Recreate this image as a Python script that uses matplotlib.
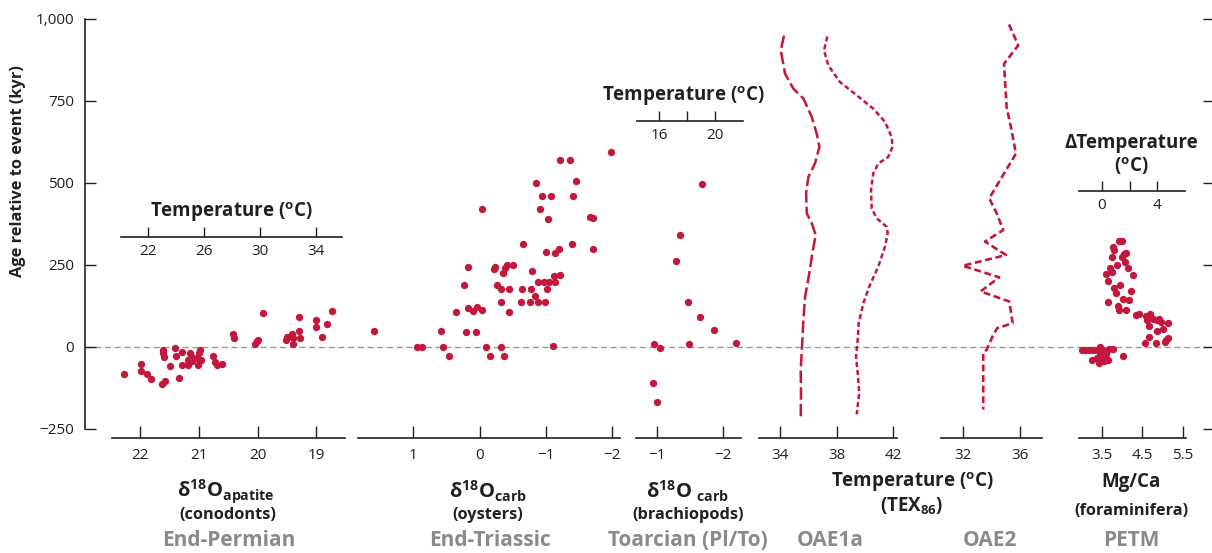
import matplotlib
matplotlib.use('Agg')
import matplotlib.pyplot as plt

W, H = 1212, 553
plt.rcParams['font.family'] = ['Open Sans', 'DejaVu Sans']
plt.rcParams['mathtext.fontset'] = 'custom'
plt.rcParams['mathtext.rm'] = 'Open Sans'
plt.rcParams['mathtext.bf'] = 'Open Sans:bold'
plt.rcParams['mathtext.it'] = 'Open Sans:italic'
plt.rcParams['lines.scale_dashes'] = False

RED = '#C4173D'
GRAY_T = '#8A8A8A'
INK = '#231F20'

# ---------------- data ----------------
age_ticks = [-250, 0, 250, 500, 750, 1000]
age_labels = ['\u2212250', '0', '250', '500', '750', '1,000']

perm_d18O = [22.28, 21.99, 21.98, 21.88, 21.81, 21.63, 21.57, 21.61, 21.61, 21.59,
             21.49, 21.40, 21.39, 21.33, 21.29, 21.28, 21.19, 21.18, 21.15, 21.13,
             21.12, 21.03, 21.02, 20.99, 20.98, 20.97, 20.76, 20.72, 20.69, 20.60,
             20.41, 20.40, 19.91, 20.04, 20.01, 19.99, 19.50, 19.51, 19.41, 19.40,
             19.40, 19.30, 19.29, 19.28, 19.00, 19.00, 18.90, 18.81, 18.73]
perm_age = [-83, -54, -75, -83, -99, -113, -104, -12, -20, -32,
            -58, -4, -30, -95, -18, -56, -56, -40, -20, -30,
            -44, -34, -56, -20, -10, -40, -30, -46, -56, -52,
            37, 25, 102, 8, 17, 21, 29, 19, 39, 27,
            8, 47, 89, 25, 81, 59, 29, 68, 107]

tri_d18O = [1.59, 0.95, 0.87, 0.59, 0.55, 0.46, 0.36, 0.23, 0.20, 0.18,
            0.17, 0.10, 0.05, 0.04, -0.04, -0.04, -0.09, -0.16, -0.21, -0.24,
            -0.27, -0.32, -0.32, -0.33, -0.35, -0.37, -0.39, -0.42, -0.45, -0.45,
            -0.51, -0.62, -0.64, -0.66, -0.76, -0.77, -0.79, -0.84, -0.85, -0.88,
            -0.88, -0.92, -0.94, -0.97, -0.99, -1.01, -1.02, -1.04, -1.05, -1.08,
            -1.11, -1.13, -1.14, -1.14, -1.20, -1.21, -1.22, -1.36, -1.40, -1.41,
            -1.46, -1.67, -1.71, -1.72, -1.98]
tri_age = [46, 0, 0, 46, 0, -29, 106, 187, 45, 118,
           243, 108, 45, 121, 418, 112, 0, -29, 235, 243,
           187, 0, 176, 136, 225, -29, 240, 250, 176, 104,
           250, 136, 176, 311, 136, 176, 231, 155, 499, 198,
           136, 418, 460, 198, 136, 287, 176, 389, 198, 460,
           1, 216, 285, 198, 297, 570, 218, 570, 311, 460,
           504, 395, 391, 297, 593]

toa_d18O = [-1.68, -1.35, -1.29, -1.47, -1.65, -1.86, -0.95, -1.04, -1.48, -2.20, -0.93, -0.99]
toa_age = [494, 339, 262, 135, 90, 49, 8, -5, 8, 11, -112, -170]

oae1a_age_a = [948, 903, 832, 786, 756, 700, 649, 609, 558, 517, 467, 406, 376, 340,
               284, 224, 152, 82, 21, -71, -141, -223]
oae1a_temp_a = [34.26, 34.03, 34.33, 34.92, 35.63, 36.22, 36.57, 36.76, 36.45, 35.98,
                35.82, 35.87, 36.22, 36.50, 36.26, 36.05, 35.75, 35.63, 35.56, 35.44,
                35.46, 35.44]
oae1a_age_b = [945, 903, 857, 806, 766, 725, 685, 639, 609, 578, 558, 528, 477, 421,
               391, 365, 345, 304, 244, 183, 132, 71, 21, -30, -81, -141, -207]
oae1a_temp_b = [37.32, 37.09, 37.39, 38.22, 39.40, 40.57, 41.40, 41.87, 41.94, 41.63,
                40.93, 40.57, 40.41, 40.46, 40.81, 41.52, 41.59, 41.40, 40.93, 40.29,
                39.87, 39.54, 39.47, 39.35, 39.47, 39.58, 39.40]

oae2_age = [982, 918, 862, 730, 659, 588, 558, 507, 452, 406, 355, 320, 279, 246,
            211, 168, 137, 71, 56, 36, -10, -20, -192]
oae2_temp = [35.21, 35.85, 34.86, 35.04, 35.39, 35.69, 35.28, 34.58, 33.83, 34.35,
             34.81, 33.53, 35.00, 31.98, 34.53, 33.23, 35.23, 35.46, 34.39, 34.11,
             33.65, 33.41, 33.41]

petm_mgca = [3.92, 3.99, 3.77, 3.79, 3.75, 4.05, 4.10, 3.99, 4.06, 3.87,
             3.69, 3.73, 3.59, 4.15, 4.26, 3.63, 3.94, 3.80, 4.21, 3.83,
             3.65, 4.02, 4.16, 3.88, 3.92, 4.08, 4.33, 4.41, 4.58, 4.69,
             4.62, 4.77, 4.85, 4.91, 4.67, 4.95, 5.13, 5.02, 4.87, 4.67,
             5.14, 5.08, 4.57, 4.83, 5.07,
             2.99, 3.07, 3.18, 3.28, 3.44, 3.51, 3.67, 3.76, 3.24, 3.36,
             3.44, 3.44, 3.51, 3.65, 3.43, 4.02, 3.47, 3.55, 3.38, 3.60]
petm_age = [323, 323, 304, 294, 272, 282, 284, 274, 259, 247,
            239, 228, 221, 239, 218, 201, 188, 178, 168, 163,
            137, 144, 142, 124, 110, 110, 97, 100, 92, 99,
            82, 84, 82, 84, 63, 76, 73, 54, 46, 29,
            26, 19, 11, 11, 14,
            -10, -10, -10, -10, -3, -10, -8, -8, -40, -35,
            -25, -40, -35, -40, -50, -30, -18, -45, -12, -22]

# ---------------- layout helpers ----------------
fig = plt.figure(figsize=(W / 100, H / 100), dpi=100)


def box(x0, y0, x1, y1):
    return [x0 / W, 1 - y1 / H, (x1 - x0) / W, (y1 - y0) / H]


def ftext(x, y, s, **kw):
    kw.setdefault('ha', 'center')
    kw.setdefault('va', 'center')
    kw.setdefault('color', INK)
    fig.text(x / W, 1 - y / H, s, **kw)


TICKFS = 11

# main age axis
ax0 = fig.add_axes(box(85, 18.5, 1214, 428.5))
ax0.set_ylim(-250, 1000)
ax0.set_xlim(0, 1)
ax0.patch.set_alpha(0)
for s in ['top', 'bottom', 'right']:
    ax0.spines[s].set_visible(False)
ax0.spines['left'].set_linewidth(1.2)
ax0.spines['left'].set_color(INK)
ax0.set_xticks([])
ax0.set_yticks(age_ticks)
ax0.set_yticklabels(age_labels)
ax0.tick_params(axis='y', direction='in', length=8, width=1.0, pad=8,
                labelsize=TICKFS, colors=INK, right=True)
ax0.axhline(0, color='#9A9A9A', lw=1.0, dashes=(4.5, 2.5), zorder=1)

YB = -250 - (438 - 428.5) / (410 / 1250)


def panel(x0, x1, xlim, ticks, labels):
    ax = fig.add_axes(box(x0, 18.5, x1, 438))
    ax.set_xlim(*xlim)
    ax.set_ylim(YB, 1000)
    ax.patch.set_alpha(0)
    for s in ['top', 'left', 'right']:
        ax.spines[s].set_visible(False)
    ax.spines['bottom'].set_linewidth(1.2)
    ax.spines['bottom'].set_color(INK)
    ax.set_yticks([])
    ax.set_xticks(ticks)
    ax.set_xticklabels(labels)
    ax.tick_params(axis='x', direction='in', length=9, width=1.0, pad=7,
                   labelsize=TICKFS, colors=INK)
    return ax


def tempaxis(x0, x1, y, xlim, ticks, labels):
    ax = fig.add_axes(box(x0, y - 1, x1, y))
    ax.set_xlim(*xlim)
    ax.patch.set_alpha(0)
    for s in ['top', 'left', 'right']:
        ax.spines[s].set_visible(False)
    ax.spines['bottom'].set_linewidth(1.2)
    ax.spines['bottom'].set_color(INK)
    ax.set_yticks([])
    ax.set_xticks(ticks)
    ax.set_xticklabels(labels)
    ax.tick_params(axis='x', direction='in', length=7, width=1.0, pad=5,
                   labelsize=TICKFS, colors=INK)
    return ax


M = '\u2212'
p1 = panel(112, 345, (22.48, 18.51), [22, 21, 20, 19], ['22', '21', '20', '19'])
p2 = panel(358, 620, (1.837, -2.121), [1, 0, -1, -2], ['1', '0', M + '1', M + '2'])
p3 = panel(636, 741, (-0.674, -2.274), [-1, -2], [M + '1', M + '2'])
p4 = panel(759, 897, (32.49, 42.25), [34, 38, 42], ['34', '38', '42'])
p5 = panel(941.5, 1042, (30.50, 37.51), [32, 36], ['32', '36'])
p6 = panel(1079, 1185.5, (2.92, 5.57), [3.5, 4.5, 5.5], ['3.5', '4.5', '5.5'])

tempaxis(120.7, 342.3, 236.7, (20.02, 35.91), [22, 26, 30, 34], ['22', '26', '30', '34'])
tempaxis(636.7, 742.7, 120.7, (14.41, 21.98), [16, 18, 20], ['16', '', '20'])
tempaxis(1079.3, 1185, 190.7, (-1.61, 5.99), [0, 2, 4], ['0', '', '4'])

sc = dict(s=28, color=RED, linewidths=0, clip_on=False, zorder=3)
p1.scatter(perm_d18O, perm_age, **sc)
p2.scatter(tri_d18O, tri_age, **sc)
p3.scatter(toa_d18O, toa_age, **sc)
p6.scatter(petm_mgca, petm_age, **sc)

p4.plot(oae1a_temp_a, oae1a_age_a, color=RED, lw=1.8, dashes=(9, 3),
        dash_capstyle='butt', clip_on=False, zorder=3)
p4.plot(oae1a_temp_b, oae1a_age_b, color=RED, lw=1.8, dashes=(3.6, 2.2),
        dash_capstyle='butt', clip_on=False, zorder=3)
p5.plot(oae2_temp, oae2_age, color=RED, lw=1.9, dashes=(5, 2.6),
        dash_capstyle='butt', clip_on=False, zorder=3)

# ---------------- texts ----------------
BIG = 13.5
ftext(18, 171, 'Age relative to event (kyr)', rotation=90, fontsize=11.8, fontweight='bold')

ftext(231.7, 212, r'Temperature ($^{\mathbf{o}}$C)', fontsize=BIG, fontweight='bold')
ftext(683, 96, r'Temperature ($^{\mathbf{o}}$C)', fontsize=BIG, fontweight='bold')
ftext(1131.7, 143, '\u0394Temperature', fontsize=BIG, fontweight='bold')
ftext(1131.7, 166, r'($^{\mathbf{o}}$C)', fontsize=BIG, fontweight='bold')

ftext(226, 491, r'δ$^{\mathbf{18}}$O$_{\mathbf{apatite}}$', fontsize=14.5, fontweight='bold')
ftext(228, 515, '(conodonts)', fontsize=11.8, fontweight='bold')
ftext(488, 491, r'δ$^{\mathbf{18}}$O$_{\mathbf{carb}}$', fontsize=14.5, fontweight='bold')
ftext(488, 515, '(oysters)', fontsize=11.8, fontweight='bold')
ftext(688, 491, r'δ$^{\mathbf{18}}$O $_{\mathbf{carb}}$', fontsize=14.5, fontweight='bold')
ftext(688, 515, '(brachiopods)', fontsize=11.8, fontweight='bold')
ftext(912, 482, r'Temperature ($^{\mathbf{o}}$C)', fontsize=BIG, fontweight='bold')
ftext(912, 506, r'(TEX$_{\mathbf{86}}$)', fontsize=BIG, fontweight='bold')
ftext(1131, 482, 'Mg/Ca', fontsize=BIG, fontweight='bold')
ftext(1131, 511, '(foraminifera)', fontsize=11.8, fontweight='bold')

for x, s in [(229, 'End-Permian'), (490, 'End-Triassic'), (688, 'Toarcian (Pl/To)'),
             (830, 'OAE1a'), (990, 'OAE2'), (1131, 'PETM')]:
    ftext(x, 541, s, fontsize=15, fontweight='bold', color=GRAY_T)

fig.savefig('out.png', dpi=100)
